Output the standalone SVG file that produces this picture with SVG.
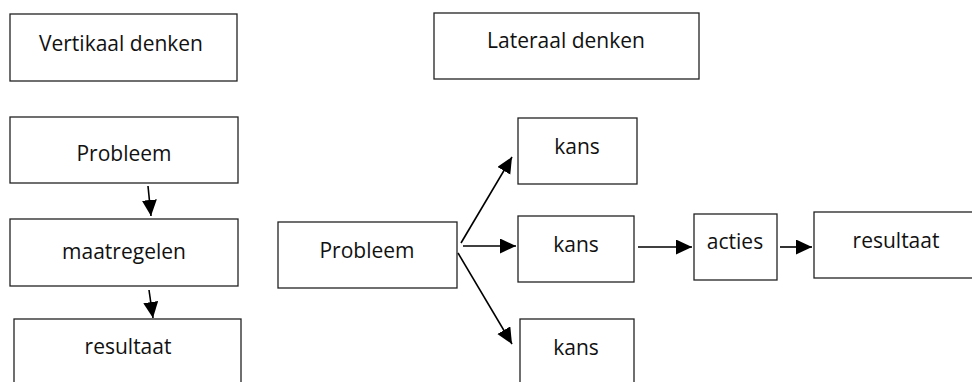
<svg xmlns="http://www.w3.org/2000/svg" width="972" height="382" viewBox="0 0 972 382">
<style>
.box{fill:#fff;stroke:#222;stroke-width:1.3}
.lbl{font-family:"Open Sans","Liberation Sans",sans-serif;font-size:21px;fill:#111;text-anchor:middle}
.conn{stroke:#000;stroke-width:1.6;fill:none;marker-end:url(#ah)}
</style>
<defs>
<marker id="ah" markerUnits="userSpaceOnUse" markerWidth="17" markerHeight="16" refX="16" refY="7.5" orient="auto">
<path d="M0,0 L16,7.5 L0,15 z" fill="#000"/>
</marker>
</defs>
<rect width="972" height="382" fill="#fff"/>
<g id="n-vertikaal"><rect class="box" x="10" y="14" width="227" height="67"/><text class="lbl" x="121" y="51">Vertikaal denken</text></g>
<g id="n-probleem1"><rect class="box" x="10" y="117" width="228" height="66"/><text class="lbl" x="124" y="161">Probleem</text></g>
<g id="n-maatregelen"><rect class="box" x="10" y="219" width="228" height="67"/><text class="lbl" x="124" y="259">maatregelen</text></g>
<g id="n-resultaat1"><rect class="box" x="14" y="319" width="227" height="80"/><text class="lbl" x="128" y="354">resultaat</text></g>
<g id="n-lateraal"><rect class="box" x="434" y="13" width="265" height="66"/><text class="lbl" x="566" y="48">Lateraal denken</text></g>
<g id="n-probleem2"><rect class="box" x="278" y="222" width="179" height="66"/><text class="lbl" x="367" y="258">Probleem</text></g>
<g id="n-kans1"><rect class="box" x="518" y="118" width="119" height="66"/><text class="lbl" x="577" y="154">kans</text></g>
<g id="n-kans2"><rect class="box" x="518" y="216" width="116" height="66"/><text class="lbl" x="576" y="252">kans</text></g>
<g id="n-kans3"><rect class="box" x="520" y="319" width="114" height="80"/><text class="lbl" x="576" y="355">kans</text></g>
<g id="n-acties"><rect class="box" x="694" y="214" width="83" height="66"/><text class="lbl" x="735" y="249">acties</text></g>
<g id="n-resultaat2"><rect class="box" x="814" y="212" width="170" height="66"/><text class="lbl" x="896" y="248">resultaat</text></g>
<g id="connectors">
<line class="conn" x1="148" y1="186" x2="151" y2="216"/>
<line class="conn" x1="149" y1="290" x2="153" y2="318"/>
<line class="conn" x1="461" y1="243" x2="512" y2="157"/>
<line class="conn" x1="463" y1="246" x2="516" y2="246"/>
<line class="conn" x1="458" y1="253" x2="512" y2="344"/>
<line class="conn" x1="638" y1="247" x2="692" y2="247"/>
<line class="conn" x1="780" y1="247" x2="812" y2="247"/>
</g>
</svg>
